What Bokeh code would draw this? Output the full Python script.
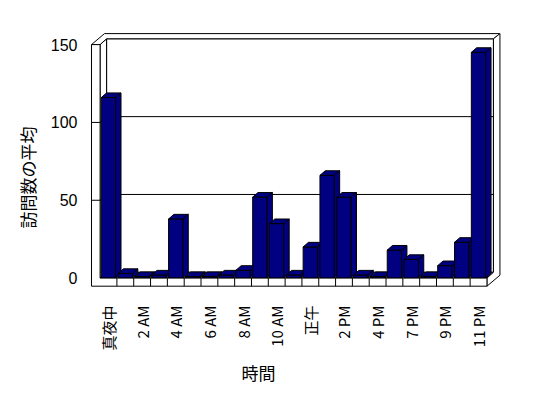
import math
from bokeh.plotting import figure
from bokeh.models import Range1d, FixedTicker, Title
from bokeh.embed import file_html
from bokeh.resources import INLINE

# ---------------- data ----------------
cats = ["真夜中", "1 AM", "2 AM", "3 AM", "4 AM", "5 AM", "6 AM", "7 AM", "8 AM",
        "9 AM", "10 AM", "11 AM", "正午", "1 PM", "2 PM", "3 PM", "4 PM", "6 PM",
        "7 PM", "8 PM", "9 PM", "10 PM", "11 PM"]
visits = [116, 3, 1, 2, 38, 1, 1, 2, 5, 52, 35, 2, 20, 66, 52, 2, 1, 18, 12, 1, 8, 23, 145]
label_idx = list(range(0, len(cats), 2))
y_ticks = [0, 50, 100, 150]
x_title = "時間"
y_title = "訪問数の平均"

# ---------------- layout (pixels) ----------------
W, H = 548, 398
FL, FR, FT, FB = 89, 503, 29, 288
CAT_PX = 16.82      # pixels per category
VAL_PX = 1.5567     # pixels per value unit
X0_PX = 108.0       # pixel of the first category centre
Y0_PX = 277.6       # pixel of value 0


def du(px):
    return px / CAT_PX


def dv(px):
    return px / VAL_PX


n = len(cats)
XL, XR = -0.5, n - 0.5
XO = XL - du(8.6)
TOP = y_ticks[-1]
FLOOR = dv(8.1)
d1x, d1y = du(6.5), dv(5.8)
d2x, d2y = du(13.0), dv(11.0)
hw = du(7.2)
bdx, bdy = du(5.3), dv(4.6)

p = figure(width=W, height=H,
           x_range=Range1d((FL - X0_PX) / CAT_PX, (FR - X0_PX) / CAT_PX),
           y_range=Range1d((Y0_PX - FB) / VAL_PX, (Y0_PX - FT) / VAL_PX),
           output_backend="svg", toolbar_location=None,
           min_border_left=FL, min_border_right=W - FR,
           min_border_top=FT, min_border_bottom=H - FB)
p.xgrid.visible = False
p.ygrid.visible = False
p.outline_line_color = None
p.background_fill_color = "white"
p.border_fill_color = "white"

# walls (inner surfaces)
walls_x = [
    [XL + d1x, XR + d1x, XR + d1x, XL + d1x],
    [XL, XL + d1x, XL + d1x, XL],
    [XL, XR, XR + d1x, XL + d1x],
    [XO, XL, XL + d1x, XR + d1x, XR + d2x, XO + d2x],
    [XR, XR, XR + d2x, XR + d2x, XR + d1x, XR + d1x],
]
walls_y = [
    [d1y, d1y, TOP + d1y, TOP + d1y],
    [0, d1y, TOP + d1y, TOP],
    [0, 0, d1y, d1y],
    [TOP, TOP, TOP + d1y, TOP + d1y, TOP + d2y, TOP + d2y],
    [0, -FLOOR, -FLOOR + d2y, TOP + d2y, TOP + d1y, d1y],
]
p.patches(walls_x, walls_y, fill_color="white", line_color="black", line_width=1)

# gridlines on back and left walls
gx, gy = [], []
for v in y_ticks[1:-1]:
    gx.append([XL, XL + d1x, XR + d1x])
    gy.append([v, v + d1y, v + d1y])
p.multi_line(gx, gy, line_color="black", line_width=1)

# 3D bars
bx, by = [], []
for i, v in enumerate(visits):
    L, R = i - hw, i + hw
    bx += [[L, R, R, L], [L, R, R + bdx, L + bdx], [R, R + bdx, R + bdx, R]]
    by += [[0, 0, v, v], [v, v, v + bdy, v + bdy], [0, bdy, v + bdy, v]]
p.patches(bx, by, fill_color="#000080", line_color="black", line_width=1)

# front face of left wall and floor
p.patches([[XO, XL, XL, XR, XR, XO]], [[TOP, TOP, 0, 0, -FLOOR, -FLOOR]],
          fill_color="white", line_color="black", line_width=1)
bounds = [XL + k for k in range(1, n)]
p.segment(x0=bounds, y0=[0] * len(bounds), x1=bounds, y1=[-FLOOR] * len(bounds),
          line_color="black", line_width=1)
tv = y_ticks[1:-1]
p.segment(x0=[XO] * len(tv), y0=tv, x1=[XL] * len(tv), y1=tv,
          line_color="black", line_width=1)

# axes
p.xaxis.ticker = FixedTicker(ticks=label_idx)
p.xaxis.major_label_overrides = {i: cats[i] for i in label_idx}
p.xaxis.major_label_orientation = math.pi / 2
p.xaxis.major_label_standoff = 11
p.xaxis.major_label_text_font = "Noto Sans CJK JP"
p.xaxis.major_label_text_font_size = "15px"
p.xaxis.major_label_text_color = "black"

p.yaxis.ticker = FixedTicker(ticks=y_ticks)
p.yaxis.major_label_standoff = 6
p.yaxis.major_label_text_font = "Liberation Sans"
p.yaxis.major_label_text_font_size = "16px"
p.yaxis.major_label_text_color = "black"

for ax in (p.xaxis, p.yaxis):
    ax.axis_line_color = None
    ax.major_tick_line_color = None
    ax.minor_tick_line_color = None

p.add_layout(Title(text=x_title, align="left", offset=152,
                   text_font="Noto Sans CJK JP", text_font_size="17px",
                   text_font_style="normal", text_color="black", standoff=8), "below")
p.add_layout(Title(text=y_title, align="left", offset=60,
                   text_font="Noto Sans CJK JP", text_font_size="17px",
                   text_font_style="normal", text_color="black", standoff=15), "left")

open("out.html", "w").write(file_html(p, INLINE))
